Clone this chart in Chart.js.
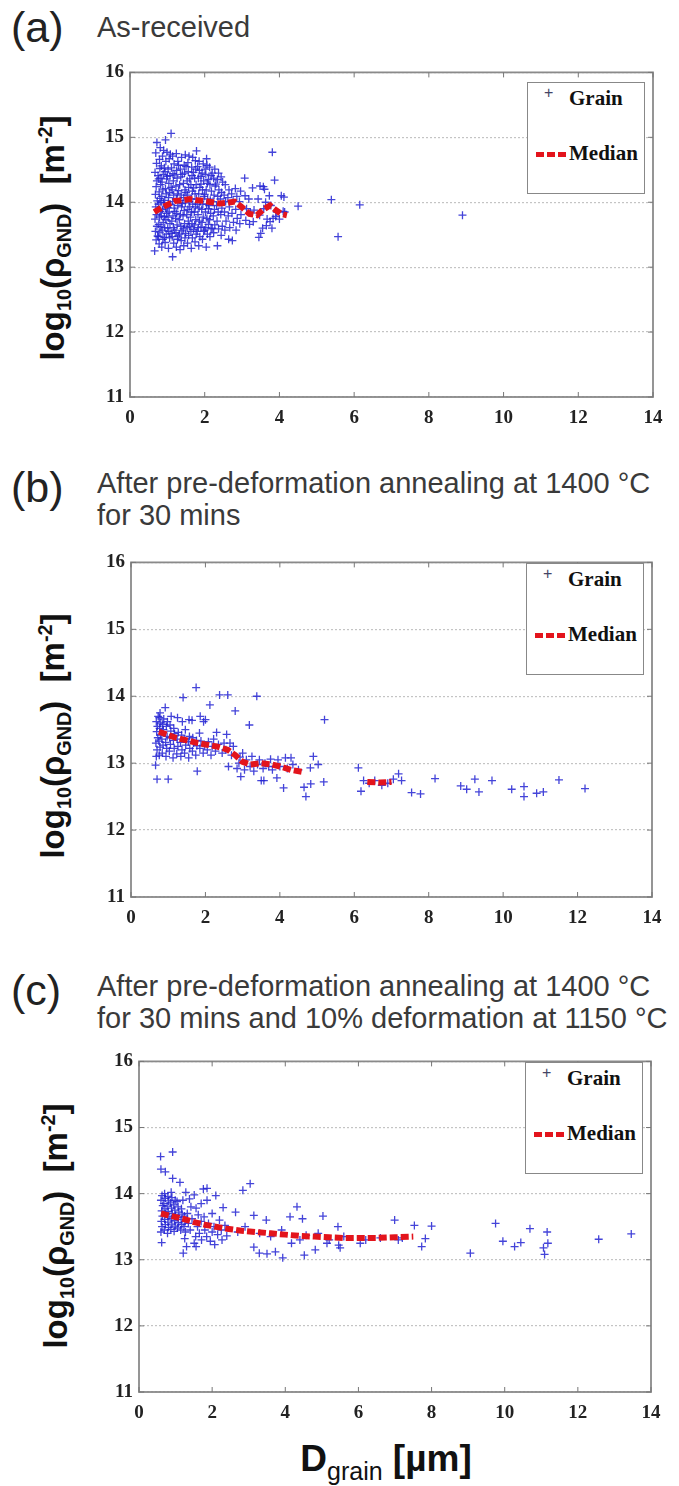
<!DOCTYPE html>
<html>
<head>
<meta charset="utf-8">
<script src="https://cdn.jsdelivr.net/npm/chart.js@4.4.1/dist/chart.umd.min.js"></script>
<style>
  body { margin:0; background:#fff; width:679px; height:1486px; position:relative; overflow:hidden;
         font-family:"Liberation Sans", Arial, sans-serif; color:#222; }
  .abs { position:absolute; white-space:nowrap; }
  .tag { font-size:43px; line-height:44px; color:#222; }
  .ttl { font-size:29px; line-height:32px; color:#3a3a3a; }
  .ylab { font-weight:bold; font-size:33px; color:#111; transform:translate(-50%,-50%) rotate(-90deg); }
  .ylab sub, .ylab sup { font-size:60%; }
  .xlab { font-weight:bold; font-size:37px; color:#111; transform:translate(-50%,-50%); }
  .xlab sub { font-size:25px; font-weight:normal; }
  .lg { position:absolute; width:116px; height:110px; border:1.5px solid #888; background:#fff;
        font-family:"Liberation Serif", serif; font-weight:bold; font-size:21px; color:#111; }
  .lg span { position:absolute; }
  canvas { position:absolute; }
</style>
</head>
<body>

<div class="abs tag" style="left:11px;top:5px">(a)</div>
<div class="abs ttl" style="left:97px;top:11px">As-received</div>

<div class="abs tag" style="left:11px;top:465px">(b)</div>
<div class="abs ttl" style="left:97px;top:467px">After pre-deformation annealing at 1400 °C<br>for 30 mins</div>

<div class="abs tag" style="left:11px;top:968px">(c)</div>
<div class="abs ttl" style="left:97px;top:970px">After pre-deformation annealing at 1400 °C<br>for 30 mins and 10% deformation at 1150 °C</div>

<div class="abs ylab" style="left:55px;top:238px">log<sub>10</sub>(ρ<sub>GND</sub>) &nbsp;[m<sup>-2</sup>]</div>
<div class="abs ylab" style="left:55px;top:736px">log<sub>10</sub>(ρ<sub>GND</sub>) &nbsp;[m<sup>-2</sup>]</div>
<div class="abs ylab" style="left:58px;top:1226px">log<sub>10</sub>(ρ<sub>GND</sub>) &nbsp;[m<sup>-2</sup>]</div>

<div class="abs xlab" style="left:386px;top:1462px">D<sub>grain</sub> [µm]</div>

<canvas id="ca"></canvas>
<canvas id="cb"></canvas>
<canvas id="cc"></canvas>

<script>
// axis ticks
const xTicks = [0, 2, 4, 6, 8, 10, 12, 14];
const yTicks = [11, 12, 13, 14, 15, 16];

// (a) as-received: grains [D, log10 rho]
const grainA = [
  [0.66,13.25],[0.70,13.42],[0.68,13.55],[0.72,13.63],[0.67,13.74],[0.71,13.81],[0.69,13.93],[0.73,14.02],[0.68,14.12],[0.70,14.24],[0.72,14.33],[0.67,14.46],[0.71,14.60],[0.69,14.76],[0.72,14.92],
  [0.78,13.36],[0.76,13.47],[0.80,13.54],[0.77,13.66],[0.79,13.77],[0.81,13.86],[0.76,13.97],[0.80,14.06],[0.78,14.16],[0.82,14.27],[0.77,14.36],[0.80,14.52],[0.79,14.66],[0.81,14.84],
  [0.85,13.31],[0.88,13.43],[0.86,13.57],[0.89,13.69],[0.84,13.79],[0.87,13.89],[0.90,13.99],[0.85,14.09],[0.88,14.19],[0.86,14.31],[0.89,14.43],[0.84,14.56],[0.87,14.71],[0.90,14.80],
  [0.94,13.38],[0.97,13.51],[0.93,13.61],[0.96,13.73],[0.98,13.83],[0.95,13.91],[0.93,14.03],[0.97,14.13],[0.95,14.21],[0.98,14.36],[0.94,14.47],[0.96,14.63],[0.99,14.77],[0.95,14.96],
  [1.03,13.29],[1.06,13.45],[1.04,13.55],[1.07,13.67],[1.02,13.77],[1.05,13.85],[1.08,13.97],[1.03,14.07],[1.06,14.15],[1.04,14.29],[1.07,14.41],[1.02,14.51],[1.05,14.67],[1.08,14.74],[1.10,15.06],
  [1.14,13.16],[1.17,13.37],[1.13,13.47],[1.16,13.61],[1.12,13.71],[1.15,13.79],[1.18,13.91],[1.14,14.01],[1.17,14.11],[1.13,14.19],[1.16,14.33],[1.15,14.44],[1.18,14.59],[1.14,14.71],
  [1.24,13.31],[1.27,13.43],[1.23,13.53],[1.26,13.65],[1.22,13.75],[1.25,13.83],[1.28,13.95],[1.24,14.05],[1.27,14.13],[1.23,14.25],[1.26,14.37],[1.25,14.49],[1.28,14.63],[1.24,14.75],
  [1.34,13.27],[1.37,13.41],[1.33,13.51],[1.36,13.63],[1.32,13.73],[1.35,13.81],[1.38,13.93],[1.34,14.03],[1.37,14.11],[1.33,14.27],[1.36,14.39],[1.35,14.51],[1.38,14.69],
  [1.44,13.33],[1.47,13.45],[1.43,13.59],[1.46,13.67],[1.42,13.79],[1.45,13.87],[1.48,13.99],[1.44,14.07],[1.47,14.19],[1.43,14.29],[1.46,14.45],[1.45,14.57],[1.48,14.73],
  [1.54,13.37],[1.57,13.49],[1.53,13.61],[1.56,13.71],[1.52,13.81],[1.55,13.89],[1.58,14.01],[1.54,14.11],[1.57,14.23],[1.53,14.33],[1.56,14.47],[1.55,14.61],[1.58,14.71],
  [1.64,13.29],[1.67,13.45],[1.63,13.55],[1.66,13.67],[1.62,13.77],[1.65,13.85],[1.68,13.97],[1.64,14.05],[1.67,14.17],[1.63,14.27],[1.66,14.41],[1.65,14.54],[1.68,14.69],
  [1.74,13.39],[1.77,13.51],[1.73,13.65],[1.76,13.73],[1.72,13.85],[1.75,13.93],[1.78,14.05],[1.74,14.13],[1.77,14.27],[1.73,14.37],[1.76,14.51],[1.75,14.64],[1.78,14.79],
  [1.84,13.33],[1.87,13.47],[1.83,13.61],[1.86,13.71],[1.82,13.81],[1.85,13.91],[1.88,14.01],[1.84,14.13],[1.87,14.23],[1.83,14.37],[1.86,14.49],[1.85,14.63],
  [1.94,13.43],[1.97,13.55],[1.93,13.69],[1.96,13.77],[1.92,13.89],[1.95,13.97],[1.98,14.09],[1.94,14.19],[1.97,14.33],[1.93,14.45],[1.96,14.59],
  [2.04,13.31],[2.07,13.51],[2.03,13.61],[2.06,13.75],[2.02,13.85],[2.05,13.97],[2.08,14.05],[2.04,14.19],[2.07,14.29],[2.03,14.43],[2.06,14.57],[2.05,14.67],
  [2.14,13.47],[2.17,13.59],[2.13,13.73],[2.16,13.83],[2.12,13.95],[2.15,14.03],[2.18,14.17],[2.14,14.27],[2.17,14.41],[2.13,14.54],
  [2.24,13.53],[2.27,13.65],[2.23,13.79],[2.26,13.89],[2.22,14.01],[2.25,14.11],[2.28,14.25],[2.24,14.37],[2.27,14.51],
  [2.34,13.33],[2.37,13.59],[2.33,13.71],[2.36,13.85],[2.32,13.95],[2.35,14.09],[2.38,14.19],[2.34,14.35],[2.37,14.45],
  [2.44,13.49],[2.47,13.63],[2.43,13.81],[2.46,13.91],[2.42,14.05],[2.45,14.15],[2.48,14.31],[2.44,14.39],
  [2.54,13.57],[2.57,13.71],[2.53,13.85],[2.56,14.01],[2.52,14.11],[2.55,14.27],
  [2.64,13.43],[2.67,13.61],[2.63,13.79],[2.66,13.93],[2.62,14.07],[2.65,14.19],
  [2.74,13.41],[2.77,13.69],[2.73,13.83],[2.76,14.03],[2.72,14.13],
  [2.84,13.57],[2.87,13.75],[2.83,13.89],[2.86,14.09],[2.82,14.21],
  [2.94,13.67],[2.97,13.81],[2.93,14.01],[2.96,14.17],
  [3.07,14.37],[3.10,13.72],[3.12,13.90],[3.08,14.10],[3.20,13.66],[3.22,13.85],[3.18,14.05],
  [3.30,13.70],[3.32,13.88],[3.28,14.22],[3.45,13.46],[3.50,13.52],[3.47,13.80],[3.43,14.05],[3.48,14.25],
  [3.57,14.24],[3.60,14.20],[3.55,13.60],[3.58,13.90],[3.65,13.64],[3.67,13.74],[3.63,14.00],
  [3.75,13.70],[3.77,13.95],[3.73,14.10],[3.81,14.77],[3.80,13.60],[3.83,13.75],[3.87,14.34],[3.90,13.78],
  [3.93,13.85],[4.00,13.74],[4.05,14.10],[4.10,13.86],[4.14,13.85],[4.12,14.08],
  [4.50,13.94],[5.39,14.04],[5.57,13.47],[6.15,13.96],[8.90,13.80],
  // extra grains in the dense core
  [0.74,13.48],[0.83,13.62],[0.92,13.46],[1.01,13.60],[1.10,13.52],[1.19,13.57],[1.29,13.48],[1.39,13.56],
  [1.49,13.52],[1.59,13.63],[1.70,13.58],[1.80,13.55],[1.90,13.62],[2.00,13.57],[2.10,13.66],[2.20,13.60],
  [0.75,14.41],[0.83,14.37],[0.92,14.53],[1.00,14.40],[1.11,14.53],[1.20,14.42],[1.30,14.57],[1.40,14.43],
  [1.50,14.55],[1.60,14.36],[1.70,14.46],[1.81,14.55],[1.90,14.40],[2.01,14.51],[2.10,14.35],[2.20,14.45],
  [0.74,13.88],[0.83,14.00],[0.92,13.78],[1.01,13.92],[1.10,14.23],[1.20,13.86],[1.30,14.18],[1.40,13.98],
  [1.50,14.15],[1.60,13.93],[1.70,14.22],[1.80,13.97],[1.90,14.28],[2.00,14.12],[2.10,13.90],[2.30,14.28]
];
const medianA = [
  [0.65,13.85],[0.80,13.90],[1.00,13.96],[1.20,14.02],[1.40,14.03],[1.60,14.05],[1.80,14.03],[2.00,14.02],
  [2.20,14.00],[2.40,13.98],[2.60,13.99],[2.80,14.01],[3.00,13.92],[3.20,13.82],[3.40,13.80],[3.55,13.88],
  [3.75,13.95],[3.90,13.88],[4.05,13.82],[4.20,13.80]
];

// (b) after annealing 1400 °C, 30 min
const grainB = [
  [0.66,12.97],[0.70,12.76],[1.00,12.76],
  [0.68,13.10],[0.70,13.20],[0.67,13.30],[0.72,13.38],[0.69,13.47],[0.71,13.55],[0.68,13.62],[0.73,13.70],
  [0.76,13.12],[0.78,13.24],[0.75,13.33],[0.79,13.42],[0.77,13.52],[0.80,13.60],[0.76,13.68],[0.78,13.75],
  [0.84,13.15],[0.86,13.27],[0.83,13.36],[0.87,13.50],[0.85,13.58],[0.88,13.66],[0.92,13.83],
  [0.94,13.10],[0.96,13.22],[0.93,13.31],[0.97,13.40],[0.95,13.55],[0.98,13.62],
  [1.03,13.18],[1.06,13.28],[1.04,13.38],[1.07,13.48],[1.05,13.57],[1.08,13.70],
  [1.13,13.08],[1.16,13.22],[1.14,13.34],[1.17,13.44],[1.15,13.52],
  [1.23,13.14],[1.26,13.25],[1.24,13.36],[1.27,13.46],[1.25,13.68],
  [1.34,13.10],[1.37,13.20],[1.33,13.31],[1.36,13.42],[1.38,13.62],
  [1.44,13.15],[1.47,13.27],[1.43,13.36],[1.46,13.50],[1.40,13.98],
  [1.55,13.08],[1.58,13.22],[1.54,13.32],[1.57,13.40],[1.56,13.65],
  [1.65,13.18],[1.68,13.30],[1.66,13.38],[1.64,13.64],[1.75,14.13],[1.78,12.88],
  [1.74,13.12],[1.77,13.26],[1.76,13.34],[1.86,13.70],[1.85,13.22],[1.88,13.33],[1.84,13.45],
  [1.95,13.62],[1.94,13.15],[1.98,13.26],[2.00,13.65],[2.05,13.20],[2.08,13.32],[2.12,13.87],
  [2.15,13.12],[2.18,13.25],[2.22,13.36],[2.30,13.46],[2.27,13.18],[2.35,13.28],[2.38,14.02],[2.60,14.02],
  [2.45,13.15],[2.50,13.30],[2.57,13.43],[2.55,13.20],[2.62,12.95],[2.66,13.30],[2.70,13.12],[2.75,13.25],[2.80,13.78],
  [2.85,12.92],[2.90,13.00],[2.93,13.09],[2.95,12.80],[3.00,13.15],[3.05,12.90],[3.10,13.05],[3.18,13.57],[3.20,12.95],
  [3.25,13.10],[3.30,12.88],[3.38,14.00],[3.40,12.98],[3.45,13.05],[3.50,12.74],[3.57,12.74],[3.55,12.92],[3.60,13.00],
  [3.70,12.95],[3.75,13.06],[3.80,12.90],[3.92,12.78],[3.95,13.05],[4.00,12.95],[4.10,12.63],[4.15,13.08],[4.20,12.92],
  [4.30,13.08],[4.35,12.98],[4.50,12.90],[4.65,12.64],[4.70,12.50],[4.82,12.93],[4.83,12.69],[4.90,13.10],[5.03,12.98],
  [5.18,12.72],[5.20,13.65],
  [6.11,12.93],[6.18,12.58],[6.25,12.74],[6.40,12.70],[6.55,12.74],[6.74,12.67],[6.90,12.70],[7.05,12.76],[7.19,12.84],[7.27,12.74],
  [7.54,12.56],[7.78,12.54],[8.17,12.77],[8.86,12.66],[9.02,12.61],[9.24,12.76],[9.35,12.57],[9.70,12.74],[10.23,12.61],
  [10.56,12.65],[10.56,12.50],[10.90,12.55],[11.08,12.57],[11.50,12.75],[12.20,12.62]
];
const medianB = [
  [0.75,13.47],[1.00,13.42],[1.20,13.38],[1.50,13.34],[1.80,13.30],[2.00,13.28],[2.30,13.25],[2.60,13.20],
  [2.80,13.12],[3.00,13.02],[3.20,12.98],[3.50,13.00],[3.80,12.98],[4.00,12.95],[4.30,12.90],[4.60,12.87],
  [5.50,null],[6.35,12.72],[6.70,12.71],[7.00,12.72]
];

// (c) after annealing and 10% deformation at 1150 °C
const grainC = [
  [0.60,13.42],[0.63,13.50],[0.61,13.58],[0.64,13.66],[0.62,13.74],[0.65,13.82],[0.60,13.90],[0.63,13.97],
  [0.69,13.45],[0.72,13.53],[0.70,13.61],[0.73,13.69],[0.71,13.77],[0.68,13.85],[0.72,13.93],[0.70,14.00],
  [0.78,13.40],[0.81,13.49],[0.79,13.57],[0.82,13.65],[0.80,13.73],[0.77,13.81],[0.81,13.89],[0.79,13.96],
  [0.87,13.46],[0.90,13.54],[0.88,13.62],[0.91,13.70],[0.89,13.78],[0.86,13.86],[0.90,13.94],[0.88,14.02],
  [0.96,13.43],[0.99,13.51],[0.97,13.59],[1.00,13.67],[0.98,13.75],[0.95,13.83],[0.99,13.90],
  [1.05,13.48],[1.08,13.56],[1.06,13.64],[1.09,13.72],[1.07,13.80],[1.04,13.88],
  [1.14,13.45],[1.17,13.53],[1.15,13.61],[1.18,13.69],[1.16,13.77],
  [1.23,13.50],[1.26,13.58],[1.24,13.66],[1.27,13.42],
  [0.59,14.56],[0.92,14.63],[0.60,14.37],[0.72,14.33],[0.92,14.23],[1.12,14.17],[0.62,13.26],[1.21,13.10],
  [1.51,13.25],[1.51,13.98],[1.76,14.07],[1.86,14.08],[1.56,13.78],[1.86,13.90],[2.10,13.97],[2.30,13.79],
  [2.64,13.72],[2.84,14.05],[3.04,14.15],[2.20,13.60],[2.27,13.30],[1.95,13.28],[2.07,13.23],[1.56,13.20],[1.71,13.30],
  [1.35,13.55],[1.40,13.45],[1.45,13.62],[1.32,13.70],[1.42,13.80],[1.38,13.92],[1.60,13.50],[1.65,13.40],
  [1.70,13.58],[1.62,13.68],[1.80,13.45],[1.85,13.35],[1.90,13.55],[1.78,13.65],[2.00,13.42],[2.05,13.50],
  [2.15,13.38],[2.25,13.45],[2.35,13.52],[2.40,13.36],[1.25,13.32],[1.30,13.20],[1.55,13.35],[2.00,13.70],
  [1.70,13.85],[1.20,13.90],[1.28,14.02],
  [3.14,13.67],[3.48,13.60],[3.14,13.19],[3.29,13.10],[3.50,13.09],[3.73,13.12],[3.93,13.03],[4.32,13.80],
  [4.47,13.62],[4.57,13.37],[4.13,13.65],[4.17,13.25],[4.52,13.07],[4.82,13.15],[5.03,13.66],[5.14,13.25],
  [5.44,13.50],[5.46,13.22],[6.05,13.25],[6.99,13.60],[7.09,13.30],[7.53,13.52],[7.73,13.20],[7.83,13.32],
  [8.00,13.51],[9.06,13.10],[9.75,13.55],[9.95,13.28],[10.27,13.20],[10.44,13.26],[10.69,13.47],[11.06,13.18],
  [11.09,13.08],[11.16,13.42],[11.18,13.25],[12.57,13.31],[13.46,13.39],
  [2.70,13.42],[2.90,13.50],[3.30,13.40],[3.60,13.35],[3.90,13.45],[4.40,13.30],[4.90,13.40],[5.20,13.30],
  [5.60,13.35],[6.20,13.30],[6.60,13.33],[7.20,13.33],[5.50,13.18]
];
const medianC = [
  [0.60,13.70],[0.90,13.66],[1.20,13.62],[1.50,13.57],[1.80,13.53],[2.10,13.50],[2.40,13.47],[2.80,13.44],
  [3.20,13.42],[3.60,13.40],[4.00,13.38],[4.40,13.36],[4.80,13.35],[5.20,13.34],[5.60,13.33],[6.00,13.33],
  [6.50,13.33],[7.00,13.34],[7.50,13.35]
];

// plot areas in page pixels
const layout = {
  ca: { l:130, t:67,   r:653, b:397 },
  cb: { l:131, t:557,  r:652, b:897 },
  cc: { l:139, t:1056, r:651, b:1392 }
};
const PADL = 45, PADT = 12, PADR = 20, PADB = 30;

// frame with inward ticks, like the original plots
const framePlugin = {
  id: 'frame',
  afterDraw(chart) {
    const { ctx, chartArea: a, scales: { x, y } } = chart;
    ctx.save();
    ctx.strokeStyle = '#8a8a8a';
    ctx.lineWidth = 1.8;
    ctx.strokeRect(a.left, a.top, a.right - a.left, a.bottom - a.top);
    ctx.lineWidth = 1;
    ctx.strokeStyle = '#777';
    ctx.beginPath();
    xTicks.forEach(v => {
      const px = x.getPixelForValue(v);
      ctx.moveTo(px, a.bottom); ctx.lineTo(px, a.bottom - 5);
      ctx.moveTo(px, a.top); ctx.lineTo(px, a.top + 5);
    });
    yTicks.forEach(v => {
      const py = y.getPixelForValue(v);
      ctx.moveTo(a.left, py); ctx.lineTo(a.left + 5, py);
      ctx.moveTo(a.right, py); ctx.lineTo(a.right - 5, py);
    });
    ctx.stroke();
    ctx.restore();
  }
};

function makePanel(id, grain, median) {
  const box = layout[id];
  const cv = document.getElementById(id);
  cv.width = box.r - box.l + PADL + PADR;
  cv.height = box.b - box.t + PADT + PADB;
  cv.style.left = (box.l - PADL) + 'px';
  cv.style.top = (box.t - PADT) + 'px';

  const tickFont = { family: '"Liberation Serif", serif', weight: 'bold', size: 19 };
  new Chart(cv.getContext('2d'), {
    type: 'scatter',
    data: {
      datasets: [
        {
          label: 'Median',
          data: median,
          showLine: true,
          spanGaps: false,
          borderColor: '#e3141c',
          borderWidth: 6,
          borderDash: [8, 3],
          pointRadius: 0,
          order: 0
        },
        {
          label: 'Grain',
          data: grain,
          pointStyle: 'cross',
          pointRadius: 4,
          borderColor: 'rgba(35,35,210,0.85)',
          backgroundColor: 'rgba(35,35,210,0.85)',
          borderWidth: 1.3,
          order: 1
        }
      ]
    },
    options: {
      responsive: false,
      animation: false,
      layout: { padding: { top: PADT, right: PADR, left: 0, bottom: 0 } },
      plugins: { legend: { display: false }, tooltip: { enabled: false } },
      scales: {
        x: {
          type: 'linear', min: 0, max: 14,
          afterBuildTicks: s => { s.ticks = xTicks.map(v => ({ value: v })); },
          afterFit: s => { s.height = PADB; },
          grid: { display: false },
          border: { display: false },
          ticks: { font: tickFont, color: '#222', padding: 2 }
        },
        y: {
          type: 'linear', min: 11, max: 16,
          afterBuildTicks: s => { s.ticks = yTicks.map(v => ({ value: v })); },
          afterFit: s => { s.width = PADL; },
          grid: { color: '#c4c4c4', lineWidth: 1.2, drawTicks: false },
          border: { display: false, dash: [2, 2] },
          ticks: { font: tickFont, color: '#222', padding: 6 }
        }
      }
    },
    plugins: [framePlugin]
  });

  // legend box in the upper right corner of the plot
  const lg = document.createElement('div');
  lg.className = 'lg';
  lg.style.left = (box.r - 126) + 'px';
  lg.style.top = (box.t + (id === 'ca' ? 15 : 6)) + 'px';
  lg.innerHTML =
    '<span style="left:16px;top:1px;font-family:Liberation Sans;font-weight:normal;font-size:16px;color:#446">+</span>' +
    '<span style="left:41px;top:3px">Grain</span>' +
    '<span style="left:8px;top:69px;width:31px;height:5px;background:repeating-linear-gradient(90deg,#e3141c 0 8px,transparent 8px 11px)"></span>' +
    '<span style="left:41px;top:58px">Median</span>';
  document.body.appendChild(lg);
}

makePanel('ca', grainA, medianA);
makePanel('cb', grainB, medianB);
makePanel('cc', grainC, medianC);
</script>
</body>
</html>
